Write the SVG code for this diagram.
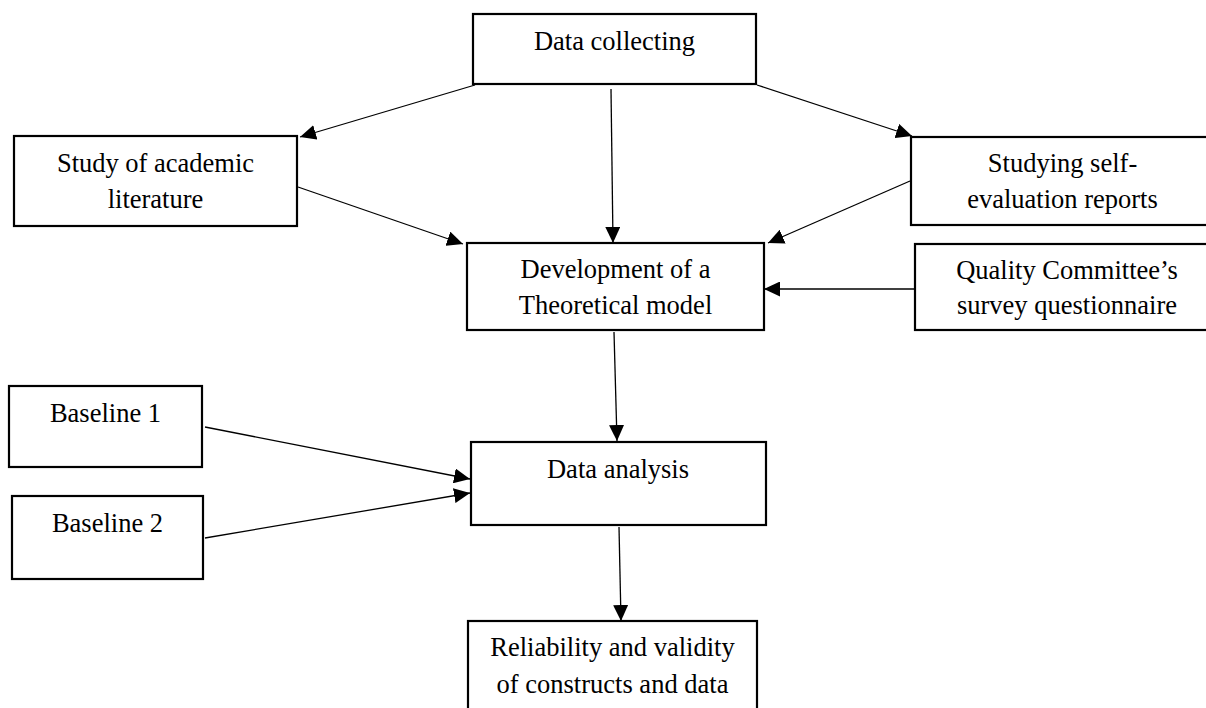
<svg xmlns="http://www.w3.org/2000/svg" width="1206" height="708" viewBox="0 0 1206 708">
<style>
.box{fill:#fff;stroke:#000;stroke-width:2.2}
.t{font-family:"Liberation Serif","Times New Roman",serif;font-size:26.5px;fill:#000;text-anchor:middle}
.c{stroke:#000;stroke-width:1.3;fill:none;marker-end:url(#ah)}
</style>
<defs>
<marker id="ah" markerUnits="userSpaceOnUse" markerWidth="17" markerHeight="15" refX="16" refY="7.5" orient="auto">
<path d="M0,0 L16,7.5 L0,15 Z" fill="#000"/>
</marker>
</defs>
<rect width="1206" height="708" fill="#fff"/>
<g id="connectors">
<line class="c" x1="475" y1="85" x2="300" y2="137"/>
<line class="c" x1="611" y1="89" x2="613" y2="243"/>
<line class="c" x1="757" y1="85" x2="912" y2="136"/>
<line class="c" x1="298" y1="187" x2="463" y2="244"/>
<line class="c" x1="910" y1="181" x2="768" y2="243"/>
<line class="c" x1="915" y1="289" x2="764" y2="289"/>
<line class="c" x1="614" y1="332" x2="617" y2="441"/>
<line class="c" x1="205" y1="427" x2="470" y2="479"/>
<line class="c" x1="205" y1="538" x2="470" y2="493"/>
<line class="c" x1="619" y1="527" x2="621" y2="621"/>
</g>
<g id="data-collecting">
<rect class="box" x="473" y="14" width="283" height="70"/>
<text class="t" x="614.5" y="50">Data collecting</text>
</g>
<g id="study-academic">
<rect class="box" x="14" y="136" width="283" height="90"/>
<text class="t" x="155.5" y="172">Study of academic</text>
<text class="t" x="155.5" y="208">literature</text>
</g>
<g id="studying-self">
<rect class="box" x="911" y="137" width="303" height="88"/>
<text class="t" x="1062.5" y="172">Studying self-</text>
<text class="t" x="1062.5" y="208">evaluation reports</text>
</g>
<g id="development">
<rect class="box" x="467" y="243" width="297" height="87"/>
<text class="t" x="615.5" y="278">Development of a</text>
<text class="t" x="615.5" y="314">Theoretical model</text>
</g>
<g id="quality">
<rect class="box" x="915" y="244" width="304" height="86"/>
<text class="t" x="1067" y="279">Quality Committee’s</text>
<text class="t" x="1067" y="314">survey questionnaire</text>
</g>
<g id="baseline1">
<rect class="box" x="9" y="386" width="193" height="81"/>
<text class="t" x="105.5" y="422">Baseline 1</text>
</g>
<g id="baseline2">
<rect class="box" x="12" y="496" width="191" height="83"/>
<text class="t" x="107.5" y="532">Baseline 2</text>
</g>
<g id="data-analysis">
<rect class="box" x="471" y="442" width="295" height="83"/>
<text class="t" x="618" y="478">Data analysis</text>
</g>
<g id="reliability">
<rect class="box" x="468" y="621" width="289" height="95"/>
<text class="t" x="612.5" y="656">Reliability and validity</text>
<text class="t" x="612.5" y="693">of constructs and data</text>
</g>
</svg>
